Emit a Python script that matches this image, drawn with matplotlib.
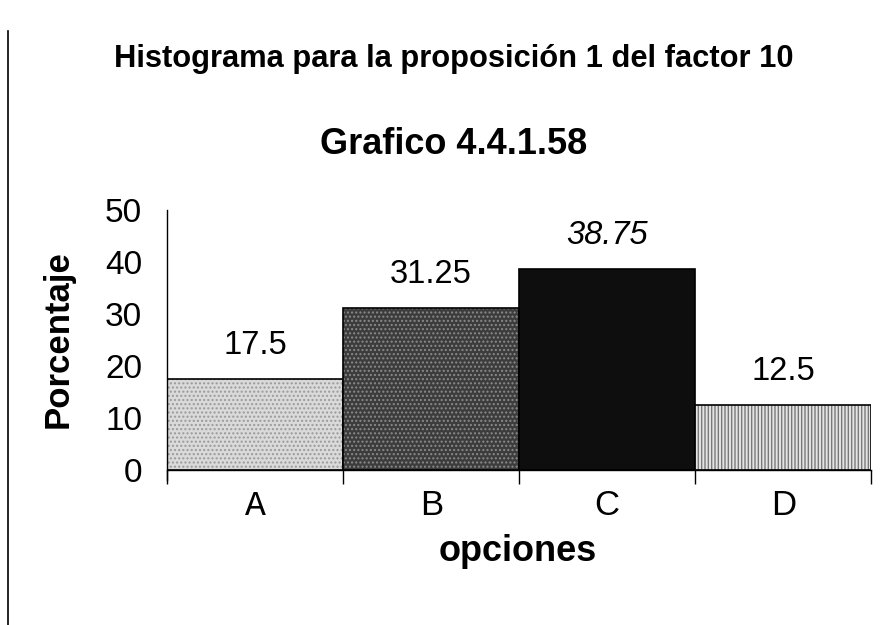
import matplotlib.pyplot as plt
from matplotlib.colors import to_rgba
from matplotlib.lines import Line2D

plt.rcParams['font.family'] = ['Liberation Sans', 'DejaVu Sans']

# datos del grafico
opciones = ['A', 'B', 'C', 'D']
porcentaje = [17.5, 31.25, 38.75, 12.5]
etiquetas = ['17.5', '31.25', '38.75', '12.5']
colores = ['#dadada', '#3c3c3c', '#0e0e0e', '#e4e4e4']
tramas = ['....', '....', '', '|||||']
colores_trama = ['#9a9a9a', '#8a8a8a', '#0e0e0e', '#7a7a7a']

fig = plt.figure(figsize=(8.8, 6.25), dpi=100)
ax = fig.add_axes([0.19, 0.248, 0.8, 0.416])

x = list(range(len(opciones)))
barras = ax.bar(x, porcentaje, width=1.0, color=colores, edgecolor='black', linewidth=1.2)
for b, h, c in zip(barras, tramas, colores_trama):
    b.set_hatch(h)
    b._hatch_color = to_rgba(c)

# etiquetas de valor encima de cada barra
for i, (v, txt) in enumerate(zip(porcentaje, etiquetas)):
    estilo = 'italic' if i == 2 else 'normal'
    ax.annotate(txt, (i, v), xytext=(0, 24), textcoords='offset points',
                ha='center', va='center', fontsize=23.5, fontstyle=estilo)

ax.set_xlim(-0.5, 3.5)
ax.set_ylim(0, 50)
ax.set_yticks([0, 10, 20, 30, 40, 50])
ax.tick_params(axis='y', length=0, labelsize=24, pad=18)

# marcas entre categorias, nombres centrados
ax.set_xticks([-0.5, 0.5, 1.5, 2.5, 3.5])
ax.set_xticklabels([])
ax.set_xticks(x, minor=True)
ax.set_xticklabels(opciones, minor=True, fontsize=25)
ax.tick_params(axis='x', which='major', length=10, width=1, direction='out')
ax.tick_params(axis='x', which='minor', length=0, pad=14)
ax.get_xticklabels(minor=True)[0].set_family('Liberation Mono')

for s in ['top', 'right']:
    ax.spines[s].set_visible(False)
ax.spines['left'].set_bounds(-2, 50)
ax.spines['left'].set_linewidth(1)
ax.spines['bottom'].set_linewidth(1)

fig.text(0.066, 0.458, 'Porcentaje', rotation=90, ha='center', va='center',
         fontsize=25, fontweight='bold')
fig.text(0.588, 0.118, 'opciones', ha='center', va='center',
         fontsize=26, fontweight='bold')

fig.text(0.516, 0.905, 'Histograma para la proposición 1 del factor 10',
         ha='center', va='center', fontsize=22.2, fontweight='bold')
fig.text(0.515, 0.768, 'Grafico 4.4.1.58', ha='center', va='center',
         fontsize=26, fontweight='bold')

# linea vertical del borde izquierdo
fig.add_artist(Line2D([0.009, 0.009], [0.0, 0.95], color='black', linewidth=1.2))

plt.savefig('out.png', dpi=100)
